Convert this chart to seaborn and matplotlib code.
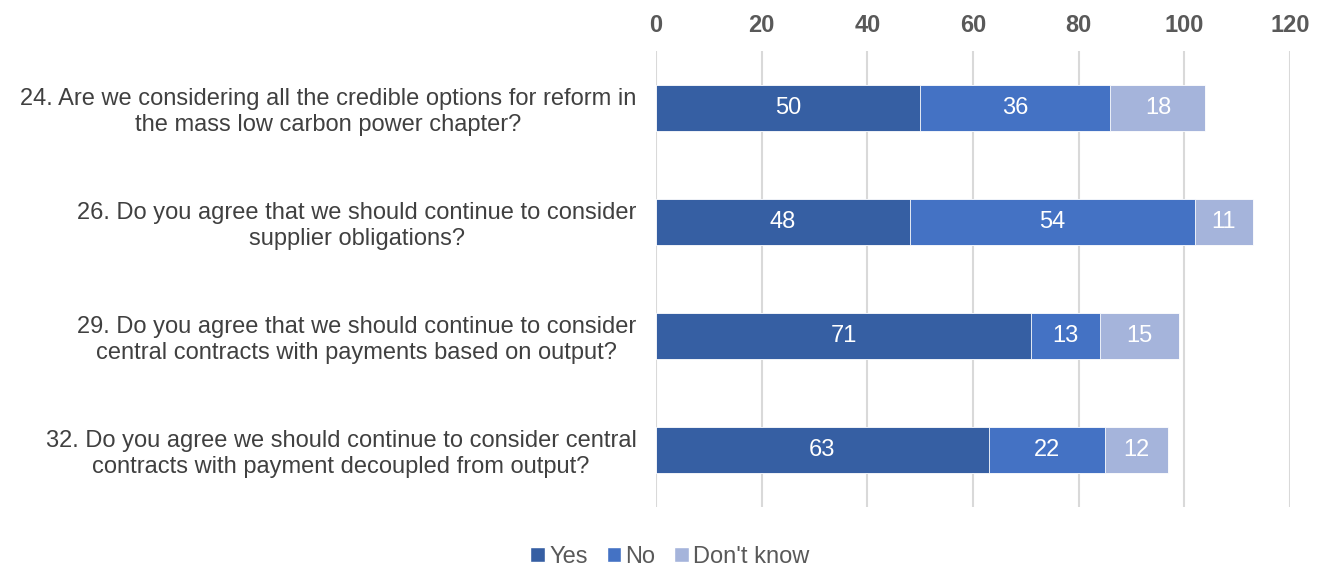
import matplotlib
matplotlib.use("Agg")
import matplotlib.pyplot as plt
import seaborn as sns
import numpy as np
import pandas as pd
from matplotlib.patches import Patch

questions = [
    "24. Are we considering all the credible options for reform in\nthe mass low carbon power chapter?",
    "26. Do you agree that we should continue to consider\nsupplier obligations?",
    "29. Do you agree that we should continue to consider\ncentral contracts with payments based on output?",
    "32. Do you agree we should continue to consider central\ncontracts with payment decoupled from output?",
]
yes = [50, 48, 71, 63]
no = [36, 54, 13, 22]
dont_know = [18, 11, 15, 12]
series_names = ["Yes", "No", "Don't know"]
series_colors = ["#365FA3", "#4472C4", "#A5B4DB"]
x_ticks = [0, 20, 40, 60, 80, 100, 120]

sns.set_theme(style="white")
plt.rcParams["font.family"] = ["Liberation Sans", "DejaVu Sans"]

values = np.array([yes, no, dont_know], dtype=float)
cum = values.cumsum(axis=0)

fig = plt.figure(figsize=(13.22, 5.70), dpi=100)
ax = fig.add_axes([656 / 1322, 1 - 507 / 570, 634 / 1322, 456 / 570])

# stacked bars: draw cumulative totals from the longest down to the shortest
for i in range(2, -1, -1):
    df = pd.DataFrame({"q": questions, "v": cum[i]})
    sns.barplot(data=df, x="v", y="q", orient="h", color=series_colors[i],
                width=0.4, ax=ax, saturation=1, edgecolor="white", linewidth=0.6)

# segment value labels
for i in range(3):
    for j in range(len(questions)):
        ax.text(cum[i, j] - values[i, j] / 2, j, f"{int(values[i, j])}",
                ha="center", va="center", color="white", fontsize=17)

ax.set_xlim(0, 120)
ax.set_ylim(3.5, -0.5)
ax.set_xticks(x_ticks)
ax.xaxis.tick_top()
ax.tick_params(axis="x", length=0, pad=10, labelsize=17, labelcolor="#595959")
for lbl in ax.get_xticklabels():
    lbl.set_fontweight("bold")
ax.tick_params(axis="y", length=0, pad=14, labelsize=17, labelcolor="#404040")
for lbl in ax.get_yticklabels():
    lbl.set_multialignment("center")
    lbl.set_linespacing(1.2)
ax.set_xlabel("")
ax.set_ylabel("")
ax.grid(axis="x", color="#D9D9D9", linewidth=1.5)
ax.set_axisbelow(True)
for s in ax.spines.values():
    s.set_visible(False)

handles = [Patch(facecolor=c, label=n) for c, n in zip(series_colors, series_names)]
fig.legend(handles=handles, loc="center", bbox_to_anchor=(670 / 1322, 1 - 557 / 570),
           ncol=3, frameon=False, fontsize=17, handlelength=0.6, handleheight=0.6,
           handletextpad=0.2, columnspacing=0.8, labelcolor="#595959")

fig.savefig("out.png", dpi=100)
